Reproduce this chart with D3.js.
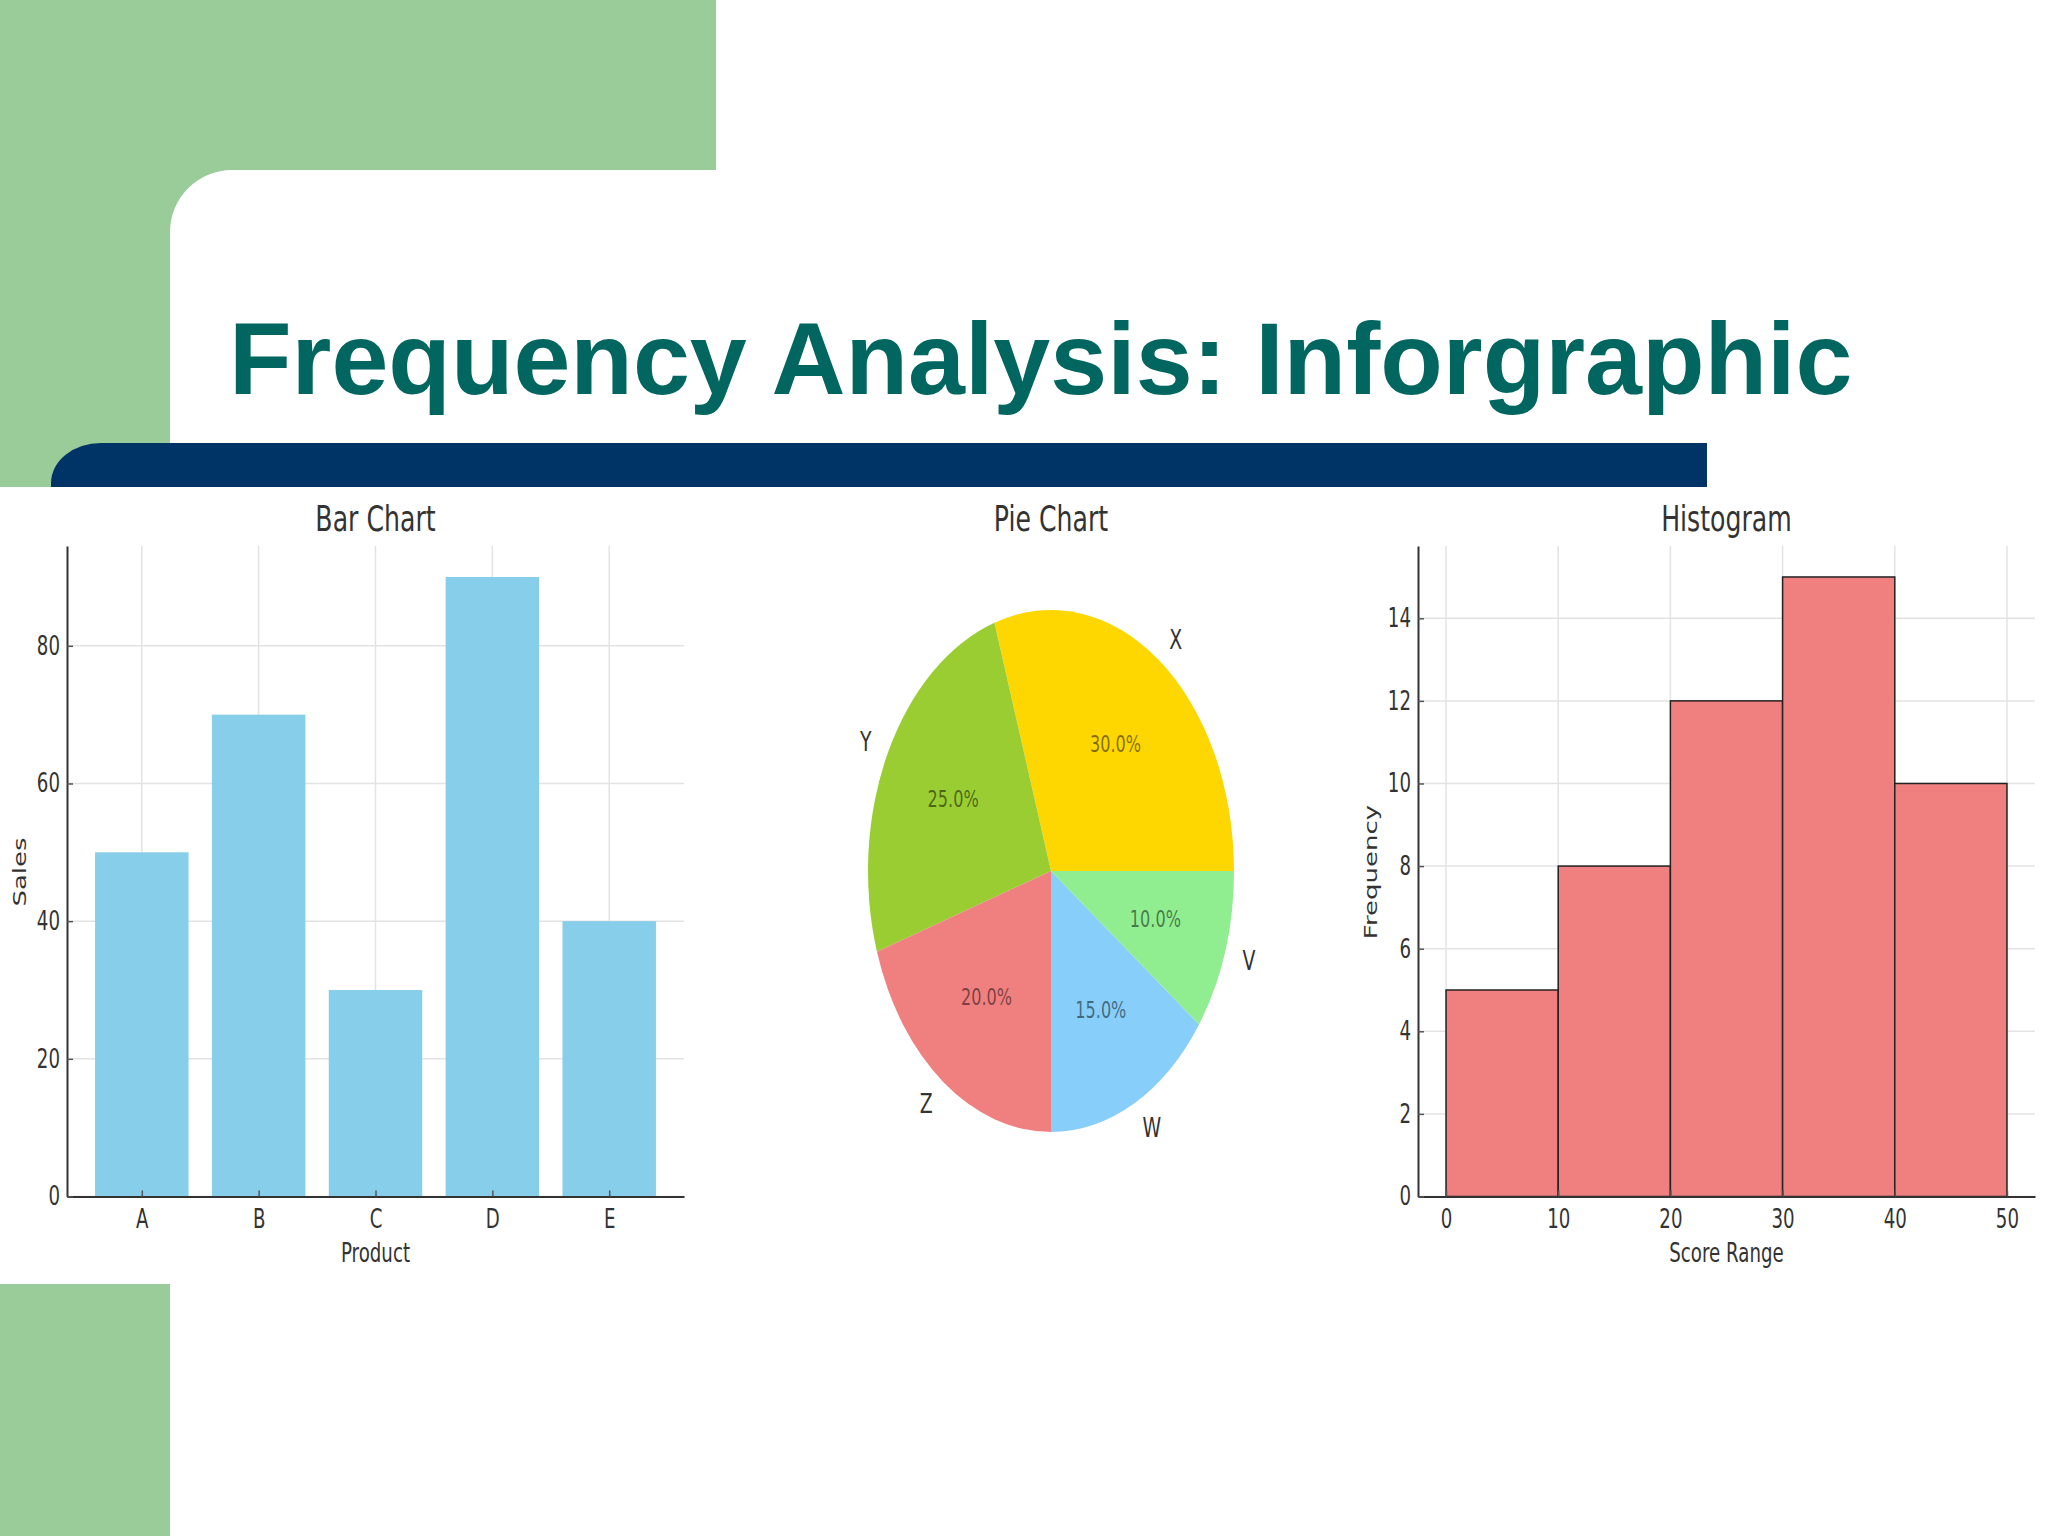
<!DOCTYPE html>
<html>
<head>
<meta charset="utf-8">
<script src="https://cdn.jsdelivr.net/npm/d3@7"></script>
<style>
  html, body { margin: 0; padding: 0; background: #fff; }
  svg { display: block; }
</style>
</head>
<body>
<svg id="chart" width="2048" height="1536"></svg>
<script>
// ---------- data ----------
const pageTitle = "Frequency Analysis: Inforgraphic";

const barCategories = ["A", "B", "C", "D", "E"];
const barValues = [50, 70, 30, 90, 40];
const barYTicks = [0, 20, 40, 60, 80];

const pieLabels = ["X", "Y", "Z", "W", "V"];
const pieValues = [30, 25, 20, 15, 10];

const histBinEdges = [0, 10, 20, 30, 40, 50];
const histCounts = [5, 8, 12, 15, 10];
const histXTicks = [0, 10, 20, 30, 40, 50];
const histYTicks = [0, 2, 4, 6, 8, 10, 12, 14];

// ---------- styles ----------
const pieColors = ["#FFD700", "#9ACD32", "#F08080", "#87CEFA", "#90EE90"];
const SQ = 0.7;               // horizontal squeeze of the embedded chart image
const chartFont = "'DejaVu Sans', sans-serif";
const textCol = "#333";
const gridCol = "#e3e3e3";

const svg = d3.select("#chart");

// ---------- slide background ----------
svg.append("path")
  .attr("d", "M0,0 H716 V170 H232 A62,62 0 0 0 170,232 V487 H0 Z")
  .attr("fill", "#99CC99");
svg.append("path")
  .attr("d", "M1707,443 V487 H51 V483 A50,40 0 0 1 101,443 Z")
  .attr("fill", "#003366");
svg.append("text")
  .attr("x", 229).attr("y", 394)
  .attr("font-family", "'Liberation Sans', Arial, sans-serif")
  .attr("font-weight", "bold")
  .attr("font-size", 102.4)
  .attr("fill", "#00665F")
  .text(pageTitle);
svg.append("rect").attr("x", 0).attr("y", 1284).attr("width", 170).attr("height", 252).attr("fill", "#99CC99");

// ---------- helpers ----------
function sqText(g, x, y, str, size, anchor, rotate, fill, baseline) {
  const t = g.append("text")
    .attr("transform", `translate(${x},${y}) scale(${SQ},1)` + (rotate ? ` rotate(${rotate})` : ""))
    .attr("font-family", chartFont)
    .attr("font-size", size)
    .attr("fill", fill || textCol)
    .attr("text-anchor", anchor || "middle")
    .text(str);
  if (baseline) t.attr("dominant-baseline", baseline);
  return t;
}

function styleAxis(g, side) {
  g.select(".domain").attr("stroke", "#333").attr("stroke-width", 2);
  g.selectAll(".tick line").attr("stroke", "#555").attr("stroke-width", 1.5);
  g.selectAll(".tick text")
    .attr("font-family", chartFont)
    .attr("font-size", 26)
    .attr("fill", textCol)
    .attr("transform", `scale(${SQ},1)`);
  if (side === "left") g.selectAll(".tick text").attr("x", -7 / SQ);
}

const plotTop = 546, plotBottom = 1196.5;

// ---------- Bar chart ----------
(function () {
  const g = svg.append("g");
  const L = 67, R = 684;
  const x = d3.scaleLinear().domain([-0.64, barCategories.length - 1 + 0.64]).range([L, R]);
  const y = d3.scaleLinear().domain([0, d3.max(barValues) * 1.05]).range([plotBottom, plotTop]);
  const idx = barCategories.map((d, i) => i);

  g.append("g").selectAll("line").data(barYTicks).join("line")
    .attr("x1", L).attr("x2", R).attr("y1", d => y(d)).attr("y2", d => y(d))
    .attr("stroke", gridCol).attr("stroke-width", 1.5);
  g.append("g").selectAll("line").data(idx).join("line")
    .attr("x1", d => x(d)).attr("x2", d => x(d)).attr("y1", plotTop).attr("y2", plotBottom)
    .attr("stroke", gridCol).attr("stroke-width", 1.5);

  g.append("g").selectAll("rect").data(barValues).join("rect")
    .attr("x", (d, i) => x(i - 0.4))
    .attr("width", (d, i) => x(i + 0.4) - x(i - 0.4))
    .attr("y", d => y(d))
    .attr("height", d => plotBottom - y(d))
    .attr("fill", "#87CEEB");

  const xa = g.append("g").attr("transform", `translate(0,${plotBottom})`)
    .call(d3.axisBottom(x).tickValues(idx).tickFormat(i => barCategories[i]).tickSize(-6).tickSizeOuter(0).tickPadding(13));
  styleAxis(xa, "bottom");
  const ya = g.append("g").attr("transform", `translate(${L},0)`)
    .call(d3.axisLeft(y).tickValues(barYTicks).tickSize(-6).tickSizeOuter(0));
  styleAxis(ya, "left");

  sqText(g, (L + R) / 2, 531, "Bar Chart", 36);
  sqText(g, (L + R) / 2, 1262, "Product", 26);
  sqText(g, 26, 872, "Sales", 26, "middle", -90);
})();

// ---------- Pie chart ----------
(function () {
  const g = svg.append("g");
  const cx = 1051, cy = 871, ry = 261, rx = 183;
  const pie = d3.pie().sort(null).value(d => d)
    .startAngle(Math.PI / 2).endAngle(Math.PI / 2 - 2 * Math.PI);
  const arcs = pie(pieValues);
  const arc = d3.arc().innerRadius(0).outerRadius(ry);
  const total = d3.sum(pieValues);

  g.append("g").attr("transform", `translate(${cx},${cy}) scale(${rx / ry},1)`)
    .selectAll("path").data(arcs).join("path")
    .attr("d", arc)
    .attr("fill", (d, i) => pieColors[i]);

  arcs.forEach((a, i) => {
    const m = (a.startAngle + a.endAngle) / 2;
    const s = Math.sin(m), c = Math.cos(m);
    sqText(g, cx + 1.1 * rx * s, cy - 1.1 * ry * c, pieLabels[i], 27, s > 0 ? "start" : "end", 0, textCol, "central");
    sqText(g, cx + 0.6 * rx * s, cy - 0.6 * ry * c, (pieValues[i] / total * 100).toFixed(1) + "%", 23, "middle", 0, "#000", "central")
      .attr("fill-opacity", 0.5);
  });

  sqText(g, cx, 531, "Pie Chart", 36);
})();

// ---------- Histogram ----------
(function () {
  const g = svg.append("g");
  const L = 1418, R = 2035;
  const x = d3.scaleLinear().domain([-2.5, 52.5]).range([L, R]);
  const y = d3.scaleLinear().domain([0, d3.max(histCounts) * 1.05]).range([plotBottom, plotTop]);

  g.append("g").selectAll("line").data(histYTicks).join("line")
    .attr("x1", L).attr("x2", R).attr("y1", d => y(d)).attr("y2", d => y(d))
    .attr("stroke", gridCol).attr("stroke-width", 1.5);
  g.append("g").selectAll("line").data(histXTicks).join("line")
    .attr("x1", d => x(d)).attr("x2", d => x(d)).attr("y1", plotTop).attr("y2", plotBottom)
    .attr("stroke", gridCol).attr("stroke-width", 1.5);

  g.append("g").selectAll("rect").data(histCounts).join("rect")
    .attr("x", (d, i) => x(histBinEdges[i]))
    .attr("width", (d, i) => x(histBinEdges[i + 1]) - x(histBinEdges[i]))
    .attr("y", d => y(d))
    .attr("height", d => plotBottom - y(d))
    .attr("fill", "#F08080")
    .attr("stroke", "#222").attr("stroke-width", 1.5);

  const xa = g.append("g").attr("transform", `translate(0,${plotBottom})`)
    .call(d3.axisBottom(x).tickValues(histXTicks).tickSize(-6).tickSizeOuter(0).tickPadding(13));
  styleAxis(xa, "bottom");
  const ya = g.append("g").attr("transform", `translate(${L},0)`)
    .call(d3.axisLeft(y).tickValues(histYTicks).tickSize(-6).tickSizeOuter(0));
  styleAxis(ya, "left");

  sqText(g, (L + R) / 2, 531, "Histogram", 36);
  sqText(g, (L + R) / 2, 1262, "Score Range", 26);
  sqText(g, 1377, 872, "Frequency", 26, "middle", -90);
})();
</script>
</body>
</html>
